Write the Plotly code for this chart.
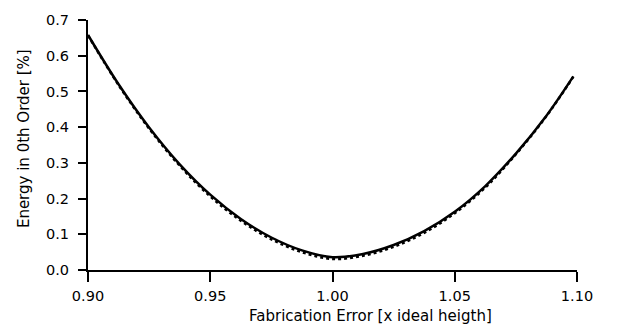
import plotly.graph_objects as go

x_err = [0.900, 0.9125, 0.925, 0.9375, 0.950, 0.9625, 0.975, 0.9875, 1.000,
         1.0125, 1.025, 1.0375, 1.050, 1.0625, 1.075, 1.0875, 1.0985]
energy_solid = [0.658, 0.520, 0.399, 0.296, 0.211, 0.143, 0.091, 0.055, 0.036,
                0.045, 0.070, 0.109, 0.163, 0.235, 0.326, 0.432, 0.542]
energy_dotted = [0.657, 0.518, 0.396, 0.292, 0.206, 0.138, 0.086, 0.050, 0.031,
                 0.040, 0.065, 0.104, 0.159, 0.231, 0.324, 0.431, 0.541]

x_ticks = [0.90, 0.95, 1.00, 1.05, 1.10]
x_tick_text = ["0.90", "0.95", "1.00", "1.05", "1.10"]
y_ticks = [0.0, 0.1, 0.2, 0.3, 0.4, 0.5, 0.6, 0.7]
y_tick_text = ["0.0", "0.1", "0.2", "0.3", "0.4", "0.5", "0.6", "0.7"]
x_title = "Fabrication Error [x ideal heigth]"
y_title = "Energy in 0th Order [%]"

fig = go.Figure()
fig.add_trace(go.Scatter(x=x_err, y=energy_dotted, mode="lines",
                         line=dict(color="black", width=2.5, dash="dot", shape="spline", smoothing=1.0),
                         showlegend=False))
fig.add_trace(go.Scatter(x=x_err, y=energy_solid, mode="lines",
                         line=dict(color="black", width=2.5, shape="spline", smoothing=1.0),
                         showlegend=False))

tick_font = dict(family="DejaVu Sans, Arial, sans-serif", size=14.5, color="black")
title_font = dict(family="DejaVu Sans, Arial, sans-serif", size=15, color="black")
fig.update_layout(
    width=627, height=331,
    margin=dict(l=88, r=50, t=16, b=61),
    paper_bgcolor="white", plot_bgcolor="white",
    font=tick_font,
    xaxis=dict(range=[0.90, 1.10], tickvals=x_ticks, ticktext=x_tick_text, tickfont=tick_font,
               showgrid=False, zeroline=False, showline=True, linecolor="black", linewidth=2,
               ticks="outside", ticklen=10, tickwidth=2, tickcolor="black", ticklabelstandoff=2),
    yaxis=dict(range=[0, 0.7], tickvals=y_ticks, ticktext=y_tick_text, tickfont=tick_font,
               showgrid=False, zeroline=False, showline=True, linecolor="black", linewidth=2,
               ticks="outside", ticklen=8, tickwidth=2, tickcolor="black", ticklabelstandoff=6),
    annotations=[
        dict(text=x_title, xref="paper", yref="paper", x=(370 - 88) / 489, y=-(317 - 270) / 254,
             xanchor="center", yanchor="middle", showarrow=False, font=title_font),
        dict(text=y_title, xref="paper", yref="paper", x=-(88 - 24) / 489, y=(270 - 137) / 254,
             xanchor="center", yanchor="middle", textangle=-90, showarrow=False, font=title_font),
    ],
)
fig.write_html("out.html")
